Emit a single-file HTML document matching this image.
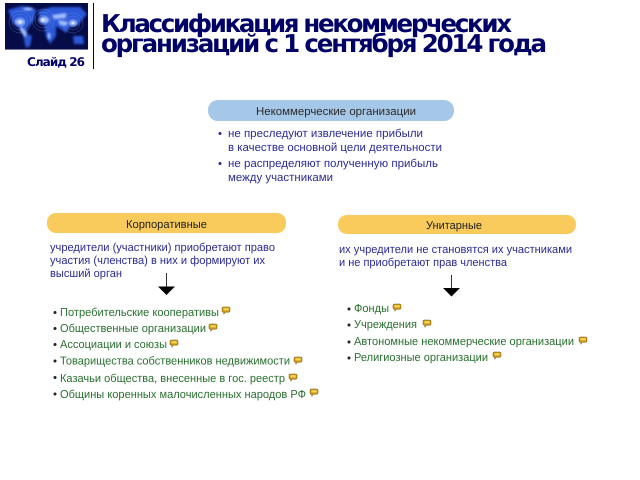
<!DOCTYPE html>
<html lang="ru">
<head>
<meta charset="utf-8">
<title>Слайд 26</title>
<style>
html,body{margin:0;padding:0;background:#fff;width:640px;height:480px;overflow:hidden}
svg{display:block;text-rendering:geometricPrecision}
.title{font-family:"DejaVu Sans",sans-serif;font-weight:700;font-size:24.500px;fill:#000066}
.slide{font-family:"DejaVu Sans",sans-serif;font-weight:700;font-size:12px;fill:#000066}
.t{font-family:"Liberation Sans",sans-serif;font-size:11.500px}
.h{fill:#2a2a2a}
.b{fill:#2b2b92}
.g{fill:#2a7030}
.k{fill:#222}
</style>
</head>
<body>
<svg xmlns="http://www.w3.org/2000/svg" width="640" height="480" viewBox="0 0 640 480">
<defs>
<filter id="s" x="-5%" y="-5%" width="110%" height="110%"><feGaussianBlur stdDeviation="0.38"/></filter>
<filter id="t" x="-5%" y="-20%" width="110%" height="140%"><feGaussianBlur stdDeviation="0.3"/></filter>
<filter id="m" x="-20%" y="-20%" width="140%" height="140%"><feGaussianBlur stdDeviation="1"/></filter>
<clipPath id="c"><rect x="5" y="3" width="83" height="47"/></clipPath>
<g id="i">
<path d="M0 1.200Q0 0 1.200 0H6.800Q8 0 8 1.200V4Q8 5.200 6.800 5.200H3.400L1.800 7.400V5.200H1.200Q0 5.200 0 4Z" fill="#c9941a" stroke="#7a5a10" stroke-width=".5"/>
<rect x="1.400" y="1.100" width="5.400" height="2.400" fill="#f5d350"/>
</g>
</defs>

<!-- Header image -->
<g clip-path="url(#c)">
<rect x="5" y="3" width="83" height="47" fill="#060c48"/>
<g filter="url(#m)" fill="#2a58d8">
<path d="M8 10L22 6L36 9L34 20L28 27L26 33L20 29L13 23Z"/>
<path d="M25 33L32 36L30 46L26 48L24 40Z"/>
<path d="M38 11L52 7L80 7L87 14L78 25L70 27L66 33L58 27L50 25L41 23Z"/>
<path d="M44 24L56 26L56 36L50 44L46 36Z"/>
<path d="M73 36L83 36L84 44L74 44Z"/>
</g>
<g filter="url(#m)" fill="#a4c0ff">
<ellipse cx="20" cy="22" rx="5" ry="3.500"/>
<ellipse cx="44" cy="20" rx="5" ry="3.500"/>
<ellipse cx="73" cy="23" rx="4" ry="3"/>
<path d="M21 26L27 33L25 38L20 30Z"/>
<path d="M52 15L66 13L66 18L54 19Z"/>
<path d="M58 20L68 22L66 26L60 25Z"/>
<ellipse cx="49" cy="36" rx="1.500" ry="3.500"/>
<ellipse cx="28" cy="9" rx="5" ry="1.500"/>
</g>
<g fill="none" stroke="#93aef5" stroke-width=".5" opacity=".45">
<circle cx="20" cy="22" r="5"/><circle cx="20" cy="22" r="8"/><circle cx="20" cy="22" r="11"/>
<circle cx="43" cy="20" r="5"/><circle cx="43" cy="20" r="8"/><circle cx="43" cy="20" r="11"/>
<circle cx="73" cy="23" r="4"/><circle cx="73" cy="23" r="7"/><circle cx="73" cy="23" r="10"/>
</g>
<g filter="url(#t)" fill="#dbe6ff">
<circle cx="20" cy="22" r="1.600"/>
<circle cx="43" cy="20" r="1.600"/>
<circle cx="73" cy="23" r="1.300"/>
</g>
</g>
<rect x="5" y="49" width="83" height="1" fill="#77779a"/>
<text class="slide" x="27" y="66" textLength="58" lengthAdjust="spacing" filter="url(#t)">Слайд 26</text>
<rect x="93" y="3" width="1" height="66" fill="#000050"/>

<!-- Title -->
<g filter="url(#t)">
<text class="title" x="101" y="32" textLength="411" lengthAdjust="spacing">Классификация некоммерческих</text>
<text class="title" x="101" y="52" textLength="446" lengthAdjust="spacing">организаций с 1 сентября 2014 года</text>
</g>

<g filter="url(#s)">
<!-- Top block -->
<rect x="208" y="100" width="246" height="21" rx="10" fill="#a6c8e8"/>
<text class="t h" x="256" y="115" textLength="160" lengthAdjust="spacingAndGlyphs">Некоммерческие организации</text>
<circle cx="220" cy="133.500" r="1.500" fill="#2b2b92"/>
<text class="t b" x="228" y="137" textLength="195" lengthAdjust="spacingAndGlyphs">не преследуют извлечение прибыли</text>
<text class="t b" x="228" y="151" textLength="214" lengthAdjust="spacingAndGlyphs">в качестве основной цели деятельности</text>
<circle cx="220" cy="163.500" r="1.500" fill="#2b2b92"/>
<text class="t b" x="228" y="167" textLength="210" lengthAdjust="spacingAndGlyphs">не распределяют полученную прибыль</text>
<text class="t b" x="228" y="181" textLength="105" lengthAdjust="spacingAndGlyphs">между участниками</text>

<!-- Left column -->
<rect x="47" y="213" width="239" height="20" rx="9" fill="#f9cb5c"/>
<text class="t k" x="126" y="228" textLength="81" lengthAdjust="spacingAndGlyphs">Корпоративные</text>
<text class="t b" x="50" y="251" textLength="225" lengthAdjust="spacingAndGlyphs">учредители (участники) приобретают право</text>
<text class="t b" x="50" y="264" textLength="215" lengthAdjust="spacingAndGlyphs">участия (членства) в них и формируют их</text>
<text class="t b" x="50" y="277" textLength="72" lengthAdjust="spacingAndGlyphs">высший орган</text>
<rect x="166" y="273" width="1" height="14" fill="#333"/>
<path d="M158 286.500H175L166.500 295Z" fill="#000"/>

<g fill="#222">
<circle cx="55" cy="312.500" r="1.500"/><circle cx="55" cy="328.500" r="1.500"/><circle cx="55" cy="344.500" r="1.500"/><circle cx="55" cy="361" r="1.500"/><circle cx="55" cy="377.500" r="1.500"/><circle cx="55" cy="394" r="1.500"/>
</g>
<text class="t g" x="60" y="316" textLength="159" lengthAdjust="spacingAndGlyphs">Потребительские кооперативы</text>
<text class="t g" x="60" y="332" textLength="146" lengthAdjust="spacingAndGlyphs">Общественные организации</text>
<text class="t g" x="60" y="348" textLength="107" lengthAdjust="spacingAndGlyphs">Ассоциации и союзы</text>
<text class="t g" x="60" y="364.500" textLength="230" lengthAdjust="spacingAndGlyphs">Товарищества собственников недвижимости</text>
<text class="t g" x="60" y="382" textLength="225" lengthAdjust="spacingAndGlyphs">Казачьи общества, внесенные в гос. реестр</text>
<text class="t g" x="60" y="398" textLength="246" lengthAdjust="spacingAndGlyphs">Общины коренных малочисленных народов РФ</text>
<use href="#i" x="222" y="307"/>
<use href="#i" x="209" y="324"/>
<use href="#i" x="170" y="340"/>
<use href="#i" x="294" y="357"/>
<use href="#i" x="289" y="374"/>
<use href="#i" x="310" y="389"/>

<!-- Right column -->
<rect x="338" y="215" width="238" height="19" rx="9" fill="#f9cb5c"/>
<text class="t k" x="426" y="229" textLength="56" lengthAdjust="spacingAndGlyphs">Унитарные</text>
<text class="t b" x="339" y="253" textLength="233" lengthAdjust="spacingAndGlyphs">их учредители не становятся их участниками</text>
<text class="t b" x="339" y="266" textLength="168" lengthAdjust="spacingAndGlyphs">и не приобретают прав членства</text>
<rect x="451" y="275" width="1" height="14" fill="#333"/>
<path d="M443 288H460L451.500 296.500Z" fill="#000"/>

<g fill="#222">
<circle cx="349" cy="309" r="1.500"/><circle cx="349" cy="325" r="1.500"/><circle cx="349" cy="342" r="1.500"/><circle cx="349" cy="358" r="1.500"/>
</g>
<text class="t g" x="354" y="312" textLength="35" lengthAdjust="spacingAndGlyphs">Фонды</text>
<text class="t g" x="354" y="328" textLength="63" lengthAdjust="spacingAndGlyphs">Учреждения</text>
<text class="t g" x="354" y="345" textLength="220" lengthAdjust="spacingAndGlyphs">Автономные некоммерческие организации</text>
<text class="t g" x="354" y="361" textLength="134" lengthAdjust="spacingAndGlyphs">Религиозные организации</text>
<use href="#i" x="393" y="304"/>
<use href="#i" x="423" y="320"/>
<use href="#i" x="579" y="337"/>
<use href="#i" x="493" y="352"/>
</g>
</svg>
</body>
</html>
